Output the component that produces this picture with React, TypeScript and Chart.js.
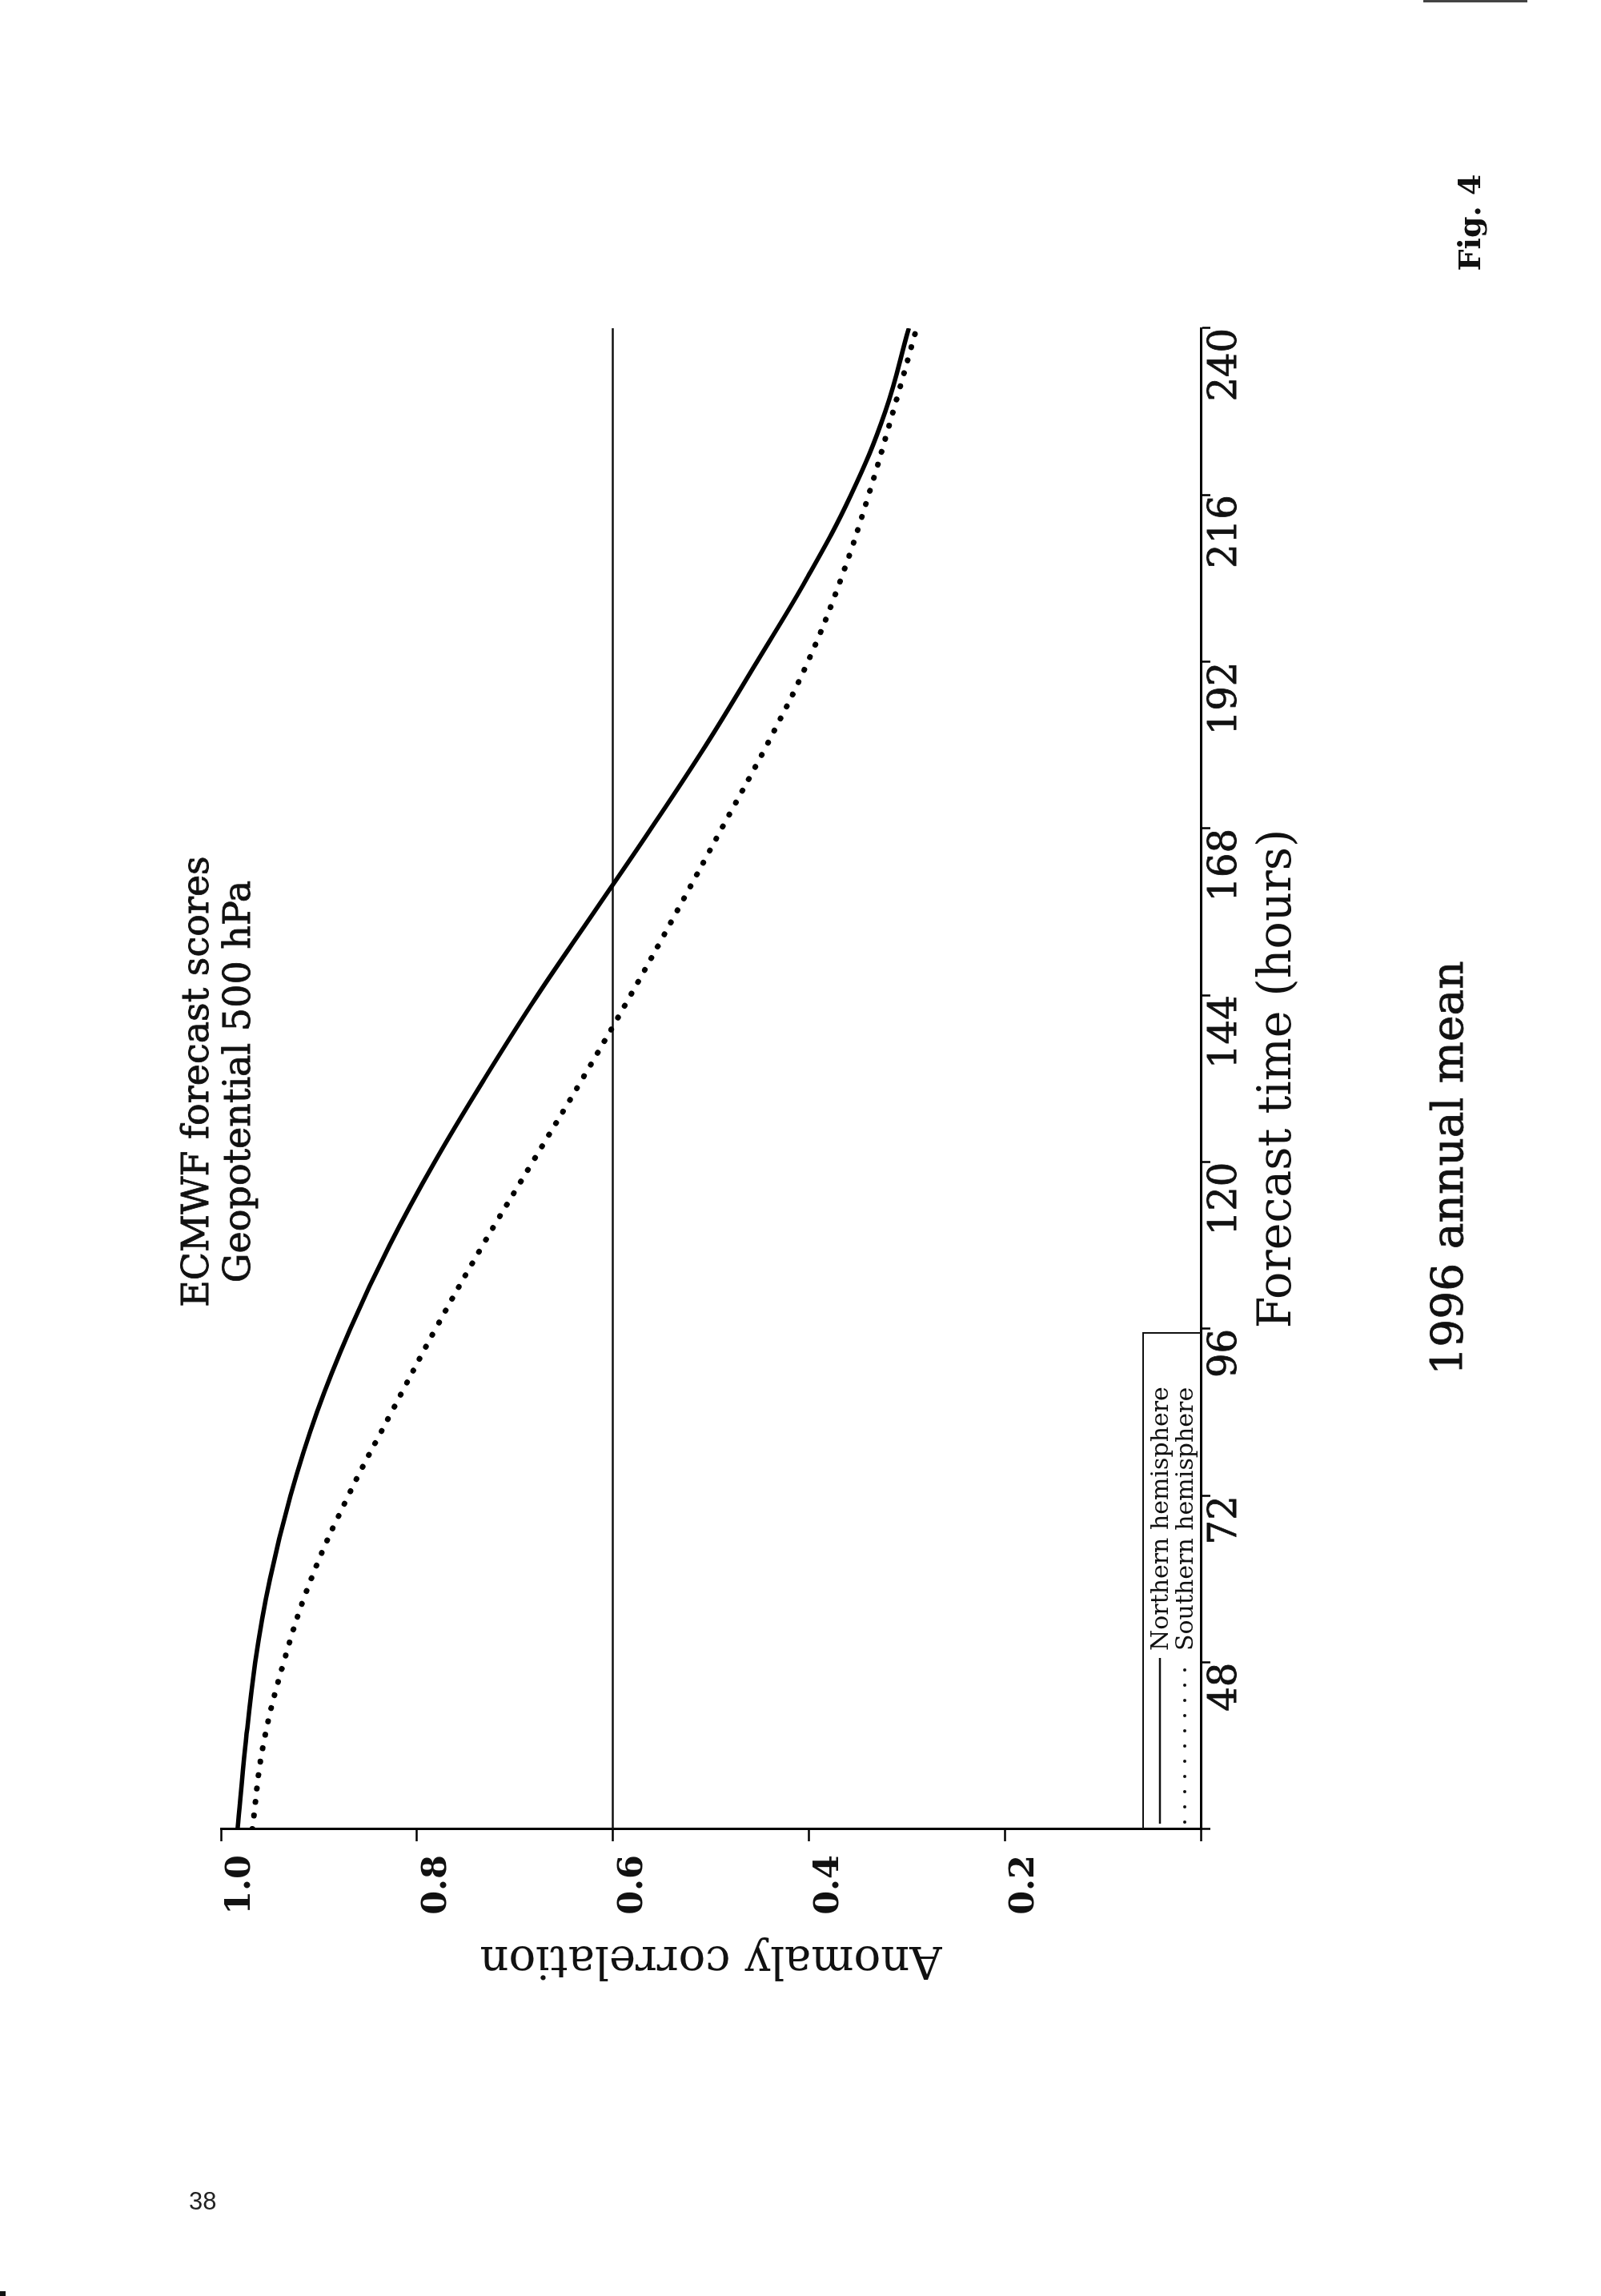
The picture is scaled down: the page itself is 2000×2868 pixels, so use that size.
import { useEffect, useRef } from 'react';
import { Chart, registerables } from 'chart.js';

Chart.register(...registerables);

// ---- data ----
const hours = [24, 36, 48, 60, 72, 84, 96, 108, 120, 132, 144, 156, 168, 180, 192, 204, 216, 228, 240];
const northern = [0.983, 0.975, 0.965, 0.95, 0.929, 0.902, 0.868, 0.828, 0.782, 0.731, 0.677, 0.619, 0.561, 0.505, 0.453, 0.402, 0.357, 0.322, 0.298];
const southern = [0.968, 0.957, 0.936, 0.908, 0.87, 0.826, 0.781, 0.733, 0.682, 0.631, 0.582, 0.535, 0.489, 0.443, 0.401, 0.367, 0.339, 0.314, 0.29];
const referenceLevel = 0.6;
const xTickLabels = [48, 72, 96, 120, 144, 168, 192, 216, 240];
const yTickLabels = [0.2, 0.4, 0.6, 0.8, 1.0];
const seriesNames = ['Northern hemisphere', 'Southern hemisphere'];
const titleLines = ['ECMWF forecast scores', 'Geopotential 500 hPa'];
const caption = '1996 annual mean';
const figLabel = 'Fig. 4';
const xTitle = 'Forecast time (hours)';
const yTitle = 'Anomaly correlation';

const FONT = '"DejaVu Serif", serif';

const pageText = {
  id: 'pageText',
  afterDraw(chart: any) {
    const ctx: CanvasRenderingContext2D = chart.ctx;
    const area = chart.chartArea;
    ctx.save();
    ctx.fillStyle = '#111';
    ctx.strokeStyle = '#111';
    ctx.textAlign = 'center';
    ctx.textBaseline = 'alphabetic';
    ctx.lineWidth = 0.8;
    ctx.font = `46px ${FONT}`;
    ctx.fillText(titleLines[0], 1517, 260);
    ctx.strokeText(titleLines[0], 1517, 260);
    ctx.fillText(titleLines[1], 1517, 312);
    ctx.strokeText(titleLines[1], 1517, 312);
    ctx.font = `55px ${FONT}`;
    ctx.fillText(caption, 1409, 1827);
    ctx.strokeText(caption, 1409, 1827);
    ctx.font = `bold 38px ${FONT}`;
    ctx.fillText(figLabel, 2590, 1849);

    // legend box in the lower-left corner of the plot
    const left = area.left;
    const bottom = area.bottom;
    const boxW = 620;
    const boxH = 72;
    ctx.lineWidth = 2;
    ctx.beginPath();
    ctx.moveTo(left, bottom - boxH);
    ctx.lineTo(left + boxW, bottom - boxH);
    ctx.lineTo(left + boxW, bottom);
    ctx.stroke();

    // solid sample
    ctx.lineWidth = 2.5;
    ctx.beginPath();
    ctx.moveTo(left + 7, bottom - 51);
    ctx.lineTo(left + 214, bottom - 51);
    ctx.stroke();
    // dotted sample
    for (let u = left + 9; u <= left + 214; u += 19) {
      ctx.beginPath();
      ctx.arc(u, bottom - 20, 2, 0, Math.PI * 2);
      ctx.fill();
    }
    ctx.textAlign = 'left';
    ctx.font = `30px ${FONT}`;
    ctx.fillText(seriesNames[0], left + 223, bottom - 41);
    ctx.fillText(seriesNames[1], left + 223, bottom - 10);
    ctx.restore();
  },
};

export default function App() {
  const ref = useRef<HTMLCanvasElement>(null);

  useEffect(() => {
    document.body.style.margin = '0';
    const canvas = ref.current;
    if (!canvas) return;
    const chart = new Chart(canvas, {
      type: 'line',
      data: {
        datasets: [
          {
            label: seriesNames[0],
            data: hours.map((h, i) => ({ x: h, y: northern[i] })),
            borderColor: '#000',
            borderWidth: 5.5,
            pointRadius: 0,
            tension: 0.4,
            fill: false,
          },
          {
            label: seriesNames[1],
            data: hours.map((h, i) => ({ x: h, y: southern[i] })),
            borderColor: '#000',
            borderWidth: 7,
            borderDash: [0.5, 16.5],
            borderCapStyle: 'round',
            pointRadius: 0,
            tension: 0.4,
            fill: false,
          },
          {
            label: 'reference',
            data: [
              { x: hours[0], y: referenceLevel },
              { x: hours[hours.length - 1], y: referenceLevel },
            ],
            borderColor: '#111',
            borderWidth: 2.5,
            pointRadius: 0,
            fill: false,
          },
        ],
      },
      options: {
        animation: false,
        responsive: false,
        devicePixelRatio: 1,
        layout: { padding: { left: 380, right: 410, top: 276, bottom: 300 } },
        plugins: {
          legend: { display: false },
          tooltip: { enabled: false },
          title: { display: false },
        },
        scales: {
          x: {
            type: 'linear',
            min: hours[0],
            max: hours[hours.length - 1],
            afterFit: (s: any) => {
              s.height = 200;
            },
            ticks: {
              stepSize: 24,
              autoSkip: false,
              maxRotation: 0,
              align: 'end',
              padding: -9,
              color: '#111',
              textStrokeColor: '#111',
              textStrokeWidth: 0.8,
              font: { family: FONT, size: 48 },
              callback: (v: any) => (xTickLabels.includes(Number(v)) ? String(v) : ''),
            },
            grid: {
              drawOnChartArea: false,
              drawTicks: true,
              tickLength: 12,
              tickColor: '#000',
              tickWidth: 2.5,
            },
            border: { display: true, color: '#000', width: 3 },
            title: {
              display: true,
              text: xTitle,
              color: '#111',
              font: { family: FONT, size: 57 },
              padding: { top: 0, bottom: 69 },
            },
          },
          y: {
            type: 'linear',
            min: 0,
            max: 1,
            afterFit: (s: any) => {
              s.width = 203;
            },
            ticks: {
              stepSize: 0.2,
              autoSkip: false,
              padding: 17,
              labelOffset: 25,
              color: '#111',
              font: { family: FONT, size: 43, weight: 'bold' },
              callback: (v: any) => {
                const n = Math.round(Number(v) * 10) / 10;
                return yTickLabels.includes(n) ? n.toFixed(1) : '';
              },
            },
            grid: {
              drawOnChartArea: false,
              drawTicks: true,
              tickLength: 15,
              tickColor: '#000',
              tickWidth: 2.5,
            },
            border: { display: true, color: '#000', width: 3 },
            title: {
              display: true,
              text: yTitle,
              color: '#111',
              font: { family: FONT, size: 56 },
              padding: { top: 8, bottom: 0 },
            },
          },
        },
      },
      plugins: [pageText],
    });
    return () => chart.destroy();
  }, []);

  return (
    <div
      style={{
        position: 'absolute',
        left: 0,
        top: 0,
        width: 2000,
        height: 2868,
        overflow: 'hidden',
        background: '#fff',
      }}
    >
      <canvas
        ref={ref}
        width={2868}
        height={2000}
        style={{
          position: 'absolute',
          left: 0,
          top: 0,
          width: 2868,
          height: 2000,
          transformOrigin: '0 0',
          transform: 'translate(0px, 2868px) rotate(-90deg)',
        }}
      />
      <div
        style={{
          position: 'absolute',
          left: 236,
          top: 2734,
          fontFamily: '"Liberation Sans", Arial, sans-serif',
          fontSize: 31,
          lineHeight: '31px',
          color: '#222',
        }}
      >
        38
      </div>
      <div style={{ position: 'absolute', left: 1778, top: 0, width: 130, height: 3, background: '#444' }} />
      <div style={{ position: 'absolute', left: 0, top: 2862, width: 7, height: 6, background: '#111' }} />
    </div>
  );
}
